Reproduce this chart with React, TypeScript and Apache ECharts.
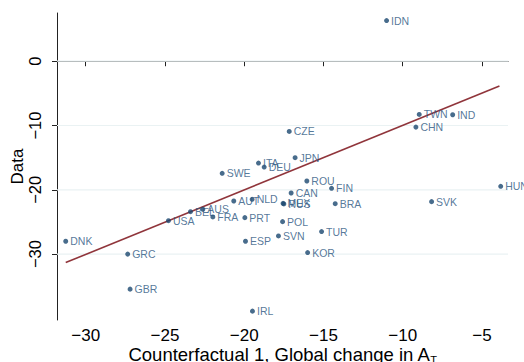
import React, { useEffect, useRef } from "react";
import * as echarts from "echarts";

const countries = ["IDN","TWN","IND","CHN","CZE","JPN","ITA","DEU","SWE","ROU","FIN","HUN","CAN","AUT","NLD","MEX","RUS","BRA","SVK","BEL","AUS","FRA","USA","PRT","POL","SVN","TUR","ESP","KOR","DNK","GRC","GBR","IRL"];
const xValues = [-11.02,-8.96,-6.85,-9.17,-17.16,-16.79,-19.1,-18.74,-21.39,-16.05,-14.49,-3.82,-17.04,-20.66,-19.5,-17.55,-17.5,-14.26,-8.18,-23.39,-22.61,-21.98,-24.78,-19.96,-17.58,-17.84,-15.12,-19.92,-16.0,-31.26,-27.35,-27.2,-19.48];
const yValues = [6.32,-8.28,-8.33,-10.25,-10.92,-15.0,-15.84,-16.46,-17.44,-18.63,-19.77,-19.46,-20.5,-21.74,-21.48,-22.1,-22.2,-22.16,-21.84,-23.4,-23.03,-24.22,-24.8,-24.33,-24.95,-27.17,-26.5,-28.0,-29.76,-28.0,-30.0,-35.45,-38.87];
const fitX = [-31.26, -3.9];
const fitY = [-31.32, -3.86];
const xTicks = [-30, -25, -20, -15, -10, -5];
const yTicks = [0, -10, -20, -30];
const xMin = -31.81;
const xMax = -3.36;
const yMin = -40.25;
const yMax = 7.5;

const FONT = "Liberation Sans, Arial, Helvetica, sans-serif";
const NAVY = "#1a476f";

export default function App() {
  const ref = useRef<HTMLDivElement>(null);
  useEffect(() => {
    const chart = echarts.init(ref.current!, null, { renderer: "svg" });
    const minus = (v: number) => String(v).replace("-", "\u2212");
    const gridSeries = yTicks.map((v) => ({
      type: "line",
      z: 0,
      silent: true,
      symbol: "none",
      data: [[xMin, v], [xMax, v]],
      lineStyle: { color: "#eaf2f3", width: 1.2 },
    }));
    chart.setOption({
      animation: false,
      backgroundColor: "#fff",
      grid: { left: 57, right: 16, top: 13, bottom: 42, outerBoundsMode: "none", containLabel: false },
      xAxis: {
        type: "value",
        min: xMin,
        max: xMax,
        axisLine: { show: true, lineStyle: { color: "#222", width: 1 } },
        axisTick: { show: true, length: 5, customValues: xTicks, lineStyle: { color: "#222" } },
        axisLabel: { customValues: xTicks, formatter: minus, fontSize: 17, color: "#000", fontFamily: FONT, margin: 7 },
        splitLine: { show: false },
        name: "Counterfactual 1, Global change in A{sub|T}",
        nameLocation: "middle",
        nameGap: 23,
        nameMoveOverlap: false,
        nameTextStyle: {
          fontSize: 18.5,
          color: "#000",
          fontFamily: FONT,
          rich: { sub: { fontSize: 11, color: "#000", fontFamily: FONT, padding: [11, 0, 0, 0] } },
        },
      },
      yAxis: {
        type: "value",
        min: yMin,
        max: yMax,
        axisLine: { show: true, lineStyle: { color: "#222", width: 1 } },
        axisTick: { show: true, length: 5, customValues: yTicks, lineStyle: { color: "#222" } },
        axisLabel: { customValues: yTicks, formatter: minus, fontSize: 16.5, color: "#000", fontFamily: FONT, rotate: 90, margin: 14 },
        splitLine: { show: false },
        name: "Data",
        nameLocation: "middle",
        nameRotate: 90,
        nameGap: 31,
        nameMoveOverlap: false,
        nameTextStyle: { fontSize: 17, color: "#000", fontFamily: FONT },
      },
      series: [
        ...gridSeries,
        {
          type: "line",
          z: 2,
          data: fitX.map((x, i) => [x, fitY[i]]),
          symbol: "none",
          lineStyle: { color: "#90353b", width: 1.6 },
        },
        {
          type: "scatter",
          z: 3,
          symbolSize: 5,
          itemStyle: { color: NAVY },
          data: countries.map((c, i) => ({ name: c, value: [xValues[i], yValues[i]] })),
          label: {
            show: true,
            position: "right",
            distance: 2,
            formatter: (p: any) => p.name,
            fontSize: 10.5,
            color: "#2a5580",
            fontFamily: FONT,
          },
          labelLayout: { hideOverlap: false },
        },
      ],
    });
    return () => chart.dispose();
  }, []);
  return <div ref={ref} style={{ width: 524, height: 362, position: "absolute", left: 0, top: 0 }} />;
}
